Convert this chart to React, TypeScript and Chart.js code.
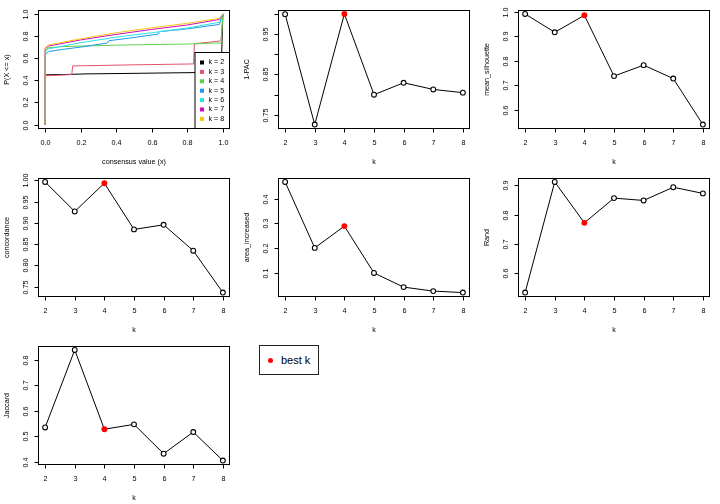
import React, { useEffect, useRef } from "react";
import { Chart, registerables } from "chart.js";
Chart.register(...registerables);

const FONT = '"Liberation Sans", Arial, Helvetica, sans-serif';

// ---- data ----
const kValues = [2, 3, 4, 5, 6, 7, 8];
const bestK = 4;
const pac = [0.9995, 0.726, 1.0, 0.8, 0.8295, 0.813, 0.805];
const meanSilhouette = [0.9906, 0.916, 0.985, 0.738, 0.7825, 0.728, 0.541];
const concordance = [0.996, 0.9266, 0.993, 0.8844, 0.8953, 0.8344, 0.736];
const areaIncreased = [0.467, 0.201, 0.289, 0.1, 0.043, 0.027, 0.021];
const randIndex = [0.535, 0.911, 0.772, 0.856, 0.848, 0.893, 0.872];
const jaccard = [0.535, 0.839, 0.528, 0.547, 0.432, 0.517, 0.405];

// ECDF of consensus values, [x, y] pairs per k
const cdfK2 = [[0, 0], [0, 0.45], [0.1, 0.452], [0.23, 0.458], [0.5, 0.463], [0.85, 0.47], [0.99, 0.475], [1.0, 1.0]];
const cdfK3 = [[0, 0], [0, 0.44], [0.15, 0.452], [0.155, 0.53], [0.5, 0.54], [0.835, 0.548], [0.84, 0.73], [0.98, 0.755], [0.99, 0.77], [1.0, 1.0]];
const cdfK4 = [[0, 0], [0, 0.67], [0.02, 0.695], [0.1, 0.705], [0.4, 0.718], [0.8, 0.728], [0.99, 0.738], [1.0, 1.0]];
const cdfK5 = [[0, 0], [0, 0.635], [0.02, 0.66], [0.1, 0.68], [0.2, 0.7], [0.35, 0.737], [0.36, 0.758], [0.5, 0.787], [0.635, 0.818], [0.645, 0.84], [0.8, 0.865], [0.98, 0.905], [1.0, 1.0]];
const cdfK6 = [[0, 0], [0, 0.655], [0.02, 0.685], [0.2, 0.74], [0.4, 0.79], [0.6, 0.83], [0.8, 0.872], [0.98, 0.925], [1.0, 1.0]];
const cdfK7 = [[0, 0], [0, 0.685], [0.02, 0.71], [0.2, 0.765], [0.4, 0.815], [0.6, 0.86], [0.8, 0.9], [0.98, 0.95], [1.0, 1.0]];
const cdfK8 = [[0, 0], [0, 0.695], [0.02, 0.72], [0.2, 0.775], [0.4, 0.83], [0.6, 0.875], [0.8, 0.915], [0.98, 0.96], [1.0, 1.0]];
const cdfLabels = ["k = 2", "k = 3", "k = 4", "k = 5", "k = 6", "k = 7", "k = 8"];
const cdfColors = ["#000000", "#DF536B", "#61D04F", "#2297E6", "#28E2E5", "#CD0BBC", "#F5C710"];

// ---- ticks ----
const kTicks = [2, 3, 4, 5, 6, 7, 8];
const kTickLabels = ["2", "3", "4", "5", "6", "7", "8"];
const cdfTicks = [0, 0.2, 0.4, 0.6, 0.8, 1.0];
const cdfTickLabels = ["0.0", "0.2", "0.4", "0.6", "0.8", "1.0"];
const pacTicks = [0.75, 0.8, 0.85, 0.9, 0.95, 1.0];
const pacTickLabels = ["0.75", "", "0.85", "", "0.95", ""];
const silTicks = [0.6, 0.7, 0.8, 0.9, 1.0];
const silTickLabels = ["0.6", "0.7", "0.8", "0.9", "1.0"];
const concTicks = [0.75, 0.8, 0.85, 0.9, 0.95, 1.0];
const concTickLabels = ["0.75", "0.80", "0.85", "0.90", "0.95", "1.00"];
const areaTicks = [0.1, 0.2, 0.3, 0.4];
const areaTickLabels = ["0.1", "0.2", "0.3", "0.4"];
const randTicks = [0.6, 0.7, 0.8, 0.9];
const randTickLabels = ["0.6", "0.7", "0.8", "0.9"];
const jacTicks = [0.4, 0.5, 0.6, 0.7, 0.8];
const jacTickLabels = ["0.4", "0.5", "0.6", "0.7", "0.8"];

type Spec = {
  xTicks: number[];
  xLabels: string[];
  yTicks: number[];
  yLabels: string[];
  xTitle: string;
  yTitle: string;
  legend?: boolean;
};

function makeAxesPlugin(spec: Spec) {
  return {
    id: "rAxes",
    afterDraw(chart: any) {
      const ctx = chart.ctx as CanvasRenderingContext2D;
      const a = chart.chartArea;
      const xs = chart.scales.x;
      const ys = chart.scales.y;
      ctx.save();
      ctx.strokeStyle = "#000";
      ctx.fillStyle = "#000";
      ctx.lineWidth = 1;
      const L = Math.round(a.left) + 0.5;
      const R = Math.round(a.right) - 0.5;
      const T = Math.round(a.top) + 0.5;
      const B = Math.round(a.bottom) - 0.5;
      ctx.strokeRect(L, T, R - L, B - T);
      ctx.font = `7.2px ${FONT}`;
      ctx.textAlign = "center";
      ctx.textBaseline = "middle";
      spec.xTicks.forEach((v, i) => {
        const px = Math.round(xs.getPixelForValue(v)) + 0.5;
        ctx.beginPath();
        ctx.moveTo(px, B);
        ctx.lineTo(px, B + 4);
        ctx.stroke();
        if (spec.xLabels[i]) ctx.fillText(spec.xLabels[i], px, B + 15);
      });
      spec.yTicks.forEach((v, i) => {
        const py = Math.round(ys.getPixelForValue(v)) + 0.5;
        ctx.beginPath();
        ctx.moveTo(L, py);
        ctx.lineTo(L - 4, py);
        ctx.stroke();
        if (spec.yLabels[i]) {
          ctx.save();
          ctx.translate(L - 12, py);
          ctx.rotate(-Math.PI / 2);
          ctx.fillText(spec.yLabels[i], 0, 0);
          ctx.restore();
        }
      });
      ctx.fillText(spec.xTitle, (L + R) / 2, B + 34);
      ctx.save();
      ctx.translate(7.5, (T + B) / 2);
      ctx.rotate(-Math.PI / 2);
      ctx.fillText(spec.yTitle, 0, 0);
      ctx.restore();

      if (spec.legend) {
        const w = 34.5;
        const h = 76;
        const lx = R - w;
        const ly = B - h;
        ctx.fillStyle = "#fff";
        ctx.fillRect(lx, ly, w, h);
        ctx.strokeRect(lx, ly, w, h);
        ctx.textAlign = "left";
        cdfLabels.forEach((lab, i) => {
          const cy = ly + 10 + i * 9.4;
          ctx.fillStyle = cdfColors[i];
          ctx.fillRect(lx + 5, cy - 2, 4, 4);
          ctx.fillStyle = "#000";
          ctx.fillText(lab, lx + 13.5, cy);
        });
      }
      ctx.restore();
    },
  };
}

function rRange(vals: number[]) {
  const mn = Math.min(...vals);
  const mx = Math.max(...vals);
  const d = (mx - mn) * 0.04;
  return [mn - d, mx + d];
}

const layoutPadding = { left: 38, right: 10, top: 9.5, bottom: 39 };

function MetricPanel({ values, yTicks, yLabels, yTitle }: { values: number[]; yTicks: number[]; yLabels: string[]; yTitle: string }) {
  const ref = useRef<HTMLCanvasElement>(null);
  useEffect(() => {
    const [ymin, ymax] = rRange(values);
    const [xmin, xmax] = rRange(kValues);
    const chart = new Chart(ref.current as HTMLCanvasElement, {
      type: "line",
      data: {
        datasets: [
          {
            data: kValues.map((k, i) => ({ x: k, y: values[i] })),
            borderColor: "#000",
            borderWidth: 1,
            pointRadius: 2.4,
            pointBorderWidth: 1.1,
            pointBorderColor: kValues.map((k) => (k === bestK ? "#FF0000" : "#000")),
            pointBackgroundColor: kValues.map((k) => (k === bestK ? "#FF0000" : "#fff")),
            tension: 0,
          },
        ],
      },
      options: {
        animation: false,
        responsive: false,
        events: [],
        layout: { padding: layoutPadding },
        plugins: { legend: { display: false }, tooltip: { enabled: false } },
        scales: {
          x: { type: "linear", display: false, min: xmin, max: xmax },
          y: { type: "linear", display: false, min: ymin, max: ymax },
        },
      },
      plugins: [makeAxesPlugin({ xTicks: kTicks, xLabels: kTickLabels, yTicks, yLabels, xTitle: "k", yTitle })],
    } as any);
    return () => chart.destroy();
  }, []);
  return <canvas ref={ref} width={240} height={168} style={{ display: "block", width: 240, height: 168 }} />;
}

function CdfPanel() {
  const ref = useRef<HTMLCanvasElement>(null);
  useEffect(() => {
    const curves = [cdfK2, cdfK3, cdfK4, cdfK5, cdfK6, cdfK7, cdfK8];
    const chart = new Chart(ref.current as HTMLCanvasElement, {
      type: "line",
      data: {
        datasets: curves.map((c, i) => ({
          data: c.map((p) => ({ x: p[0], y: p[1] })),
          borderColor: cdfColors[i],
          borderWidth: 1,
          pointRadius: 0,
          tension: 0,
          order: curves.length - i,
        })),
      },
      options: {
        animation: false,
        responsive: false,
        events: [],
        layout: { padding: layoutPadding },
        plugins: { legend: { display: false }, tooltip: { enabled: false } },
        scales: {
          x: { type: "linear", display: false, min: -0.04, max: 1.04 },
          y: { type: "linear", display: false, min: -0.04, max: 1.04 },
        },
      },
      plugins: [
        makeAxesPlugin({
          xTicks: cdfTicks,
          xLabels: cdfTickLabels,
          yTicks: cdfTicks,
          yLabels: cdfTickLabels,
          xTitle: "consensus value (x)",
          yTitle: "P(X <= x)",
          legend: true,
        }),
      ],
    } as any);
    return () => chart.destroy();
  }, []);
  return <canvas ref={ref} width={240} height={168} style={{ display: "block", width: 240, height: 168 }} />;
}

function Cell({ col, row, children }: { col: number; row: number; children: React.ReactNode }) {
  return <div style={{ position: "absolute", left: col * 240, top: row * 168, width: 240, height: 168 }}>{children}</div>;
}

export default function App() {
  return (
    <div style={{ position: "absolute", left: 0, top: 0, width: 720, height: 504, background: "#fff", fontFamily: FONT }}>
      <Cell col={0} row={0}><CdfPanel /></Cell>
      <Cell col={1} row={0}><MetricPanel values={pac} yTicks={pacTicks} yLabels={pacTickLabels} yTitle="1-PAC" /></Cell>
      <Cell col={2} row={0}><MetricPanel values={meanSilhouette} yTicks={silTicks} yLabels={silTickLabels} yTitle="mean_silhouette" /></Cell>
      <Cell col={0} row={1}><MetricPanel values={concordance} yTicks={concTicks} yLabels={concTickLabels} yTitle="concordance" /></Cell>
      <Cell col={1} row={1}><MetricPanel values={areaIncreased} yTicks={areaTicks} yLabels={areaTickLabels} yTitle="area_increased" /></Cell>
      <Cell col={2} row={1}><MetricPanel values={randIndex} yTicks={randTicks} yLabels={randTickLabels} yTitle="Rand" /></Cell>
      <Cell col={0} row={2}><MetricPanel values={jaccard} yTicks={jacTicks} yLabels={jacTickLabels} yTitle="Jaccard" /></Cell>
      <div style={{ position: "absolute", left: 258.5, top: 345, width: 58, height: 28, border: "1px solid #222", background: "#fff" }}>
        <span style={{ position: "absolute", left: 8, top: 11.5, width: 5, height: 5, borderRadius: "50%", background: "#FF0000" }} />
        <span style={{ position: "absolute", left: 21.5, top: 0, lineHeight: "28px", fontSize: 11, color: "#000", whiteSpace: "nowrap" }}>best k</span>
      </div>
    </div>
  );
}
